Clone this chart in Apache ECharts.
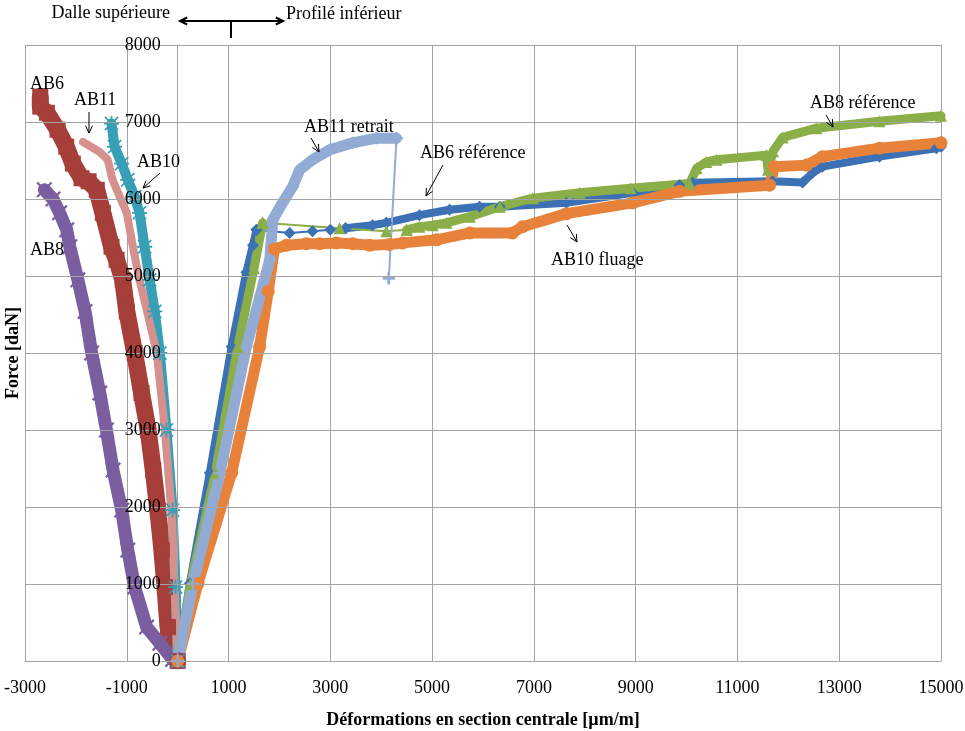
<!DOCTYPE html>
<html><head><meta charset="utf-8">
<script src="https://cdn.jsdelivr.net/npm/echarts@6/dist/echarts.min.js"></script>
<style>html,body{margin:0;padding:0;background:#fff}#c{width:965px;height:731px}</style>
</head><body><div id="c"></div>
<script>
// ---- axes / text ----
const xTickLabels = [-3000, -1000, 1000, 3000, 5000, 7000, 9000, 11000, 13000, 15000];
const yTickLabels = [0, 1000, 2000, 3000, 4000, 5000, 6000, 7000, 8000];
const xTitle = 'Déformations en section centrale [µm/m]';
const yTitle = 'Force [daN]';

// ---- Dalle supérieure (negative strains) ----
const ab6Dalle = [[0,0],[-190,440],[-250,960],[-310,1440],[-390,1960],[-480,2480],[-580,3000],[-710,3480],[-845,4000],[-1000,4540],[-1080,4950],[-1200,5210],[-1300,5380],[-1470,5820],[-1590,6120],[-1750,6230],[-1890,6270],[-2060,6460],[-2190,6680],[-2360,6900],[-2570,7120],[-2700,7200],[-2700,7330]];
const ab8Dalle = [[0,0],[-100,20],[-350,230],[-610,440],[-845,960],[-980,1440],[-1100,1960],[-1270,2480],[-1400,3000],[-1530,3480],[-1690,4000],[-1820,4540],[-1960,4950],[-2120,5380],[-2180,5600],[-2320,5820],[-2450,6000],[-2620,6120]];
const ab10Dalle = [[0,0],[-40,960],[-100,1960],[-220,3000],[-350,4000],[-450,4540],[-550,4950],[-650,5380],[-750,5820],[-845,6030],[-980,6250],[-1100,6460],[-1240,6680],[-1300,6980]];
const ab11Dalle = [[0,0],[-60,960],[-120,1960],[-250,3000],[-410,4000],[-600,4540],[-750,4950],[-880,5380],[-1000,5820],[-1140,6030],[-1280,6250],[-1375,6510],[-1530,6610],[-1860,6740]];

// ---- Profilé inférieur (positive strains) ----
const ab6Ref = [[0,0],[240,1010],[630,2440],[1060,4080],[1350,5050],[1480,5400],[1550,5600],[2200,5560],[2650,5580],[3000,5600],[3300,5620],[3830,5660],[4100,5690],[4750,5790],[5340,5860],[5930,5900],[6330,5900],[7640,5950],[8940,6080],[9860,6180],[10120,6210],[11690,6230],[12280,6215],[12480,6340],[12670,6420],[13790,6550],[14910,6660],[15000,6680]];
const ab8Ref = [[0,0],[250,1000],[740,2440],[1180,4080],[1500,5100],[1670,5690],[3180,5620],[4100,5580],[4500,5600],[4750,5640],[5010,5660],[5280,5690],[5740,5770],[6330,5900],[6980,6010],[7900,6080],[8900,6140],[10060,6200],[10200,6400],[10390,6480],[10590,6510],[11570,6570],[11600,6380],[11700,6620],[11890,6800],[12550,6920],[13790,7010],[15000,7080]];
const ab10Fluage = [[0,0],[400,1010],[1060,2440],[1610,4080],[1780,4800],[1900,5350],[2140,5400],[2530,5420],[2790,5420],[3120,5430],[3440,5420],[3770,5400],[4160,5410],[4420,5430],[5090,5470],[5740,5560],[6580,5560],[6780,5640],[7640,5810],[8940,5950],[9860,6100],[11630,6180],[11730,6420],[12360,6440],[12670,6550],[13790,6660],[15000,6730]];
const ab11Retrait = [[0,0],[300,1000],[830,2440],[1350,4080],[1810,5210],[1870,5730],[2060,5950],[2260,6160],[2400,6380],[2650,6510],[2990,6640],[3440,6730],[3910,6790],[4300,6790],[4150,4970]];

const SERIF = '"Liberation Serif","Times New Roman",serif';
const GRID = '#A3A3A3';
const PLUS = 'path://M4,0H6V4H10V6H6V10H4V6H0V4H4Z';
const CROSS = 'path://M1,0L5,4L9,0L10,1L6,5L10,9L9,10L5,6L1,10L0,9L4,5L0,1Z';
const STAR = 'path://M4.4,0H5.6V10H4.4Z M0,4.4H10V5.6H0Z M1,0.2L9.8,9L9,9.8L0.2,1Z M9,0.2L9.8,1L1,9.8L0.2,9Z';

function curve(name, data, color, width, symbol, size, thin) {
  const base = {type:'line', name, animation:false, silent:true, symbol, symbolSize:size,
    itemStyle:{color}, showSymbol: symbol !== 'none'};
  if (!thin) {
    return [Object.assign({}, base, {data, lineStyle:{color, width, join:'round', cap:'round'}})];
  }
  const band = data.slice(0, thin[0] + 1).concat([['-','-']], data.slice(thin[1]));
  const thinPart = data.slice(thin[0], thin[1] + 1);
  return [
    Object.assign({}, base, {data: band, lineStyle:{color, width, join:'round', cap:'round'}}),
    Object.assign({}, base, {data: thinPart, lineStyle:{color, width:2}})
  ];
}

const series = [].concat(
  curve('AB6 référence', ab6Ref, '#3C71B5', 8, 'diamond', 12, [6, 10]),
  curve('AB6', ab6Dalle, '#A63E3A', 17, 'rect', 16),
  curve('AB8 référence', ab8Ref, '#8AAE48', 9, 'triangle', 12, [5, 8]),
  curve('AB8', ab8Dalle, '#7A5EA0', 13, CROSS, 16),
  curve('AB10', ab10Dalle, '#379FB6', 10, STAR, 15),
  curve('AB10 fluage', ab10Fluage, '#E8823A', 11, 'circle', 13),
  curve('AB11', ab11Dalle, '#D6908D', 8, 'none', 0),
  curve('AB11 retrait', ab11Retrait, '#92ABD5', 11, PLUS, 12, [13, 14])
);

function txt(x, y, text, align) {
  return {type:'text', x, y, z:100, style:{text, font:'18px ' + SERIF, fill:'#000', align: align || 'left', verticalAlign:'middle'}};
}
function arrow(x1, y1, x2, y2, w) {
  const a = Math.atan2(y2 - y1, x2 - x1), L = 8, s = 0.45;
  const p1 = [x2 - L * Math.cos(a - s), y2 - L * Math.sin(a - s)];
  const p2 = [x2 - L * Math.cos(a + s), y2 - L * Math.sin(a + s)];
  return [
    {type:'polyline', z:100, shape:{points:[[x1,y1],[x2,y2]]}, style:{stroke:'#000', lineWidth:w || 1, fill:null}},
    {type:'polyline', z:100, shape:{points:[p1,[x2,y2],p2]}, style:{stroke:'#000', lineWidth:w || 1, fill:null}}
  ];
}

const graphic = [].concat(
  [txt(170, 13, 'Dalle supérieure', 'right'), txt(286, 14, 'Profilé inférieur')],
  arrow(231, 21, 180, 21, 2), arrow(231, 21, 283, 21, 2),
  [{type:'polyline', z:100, shape:{points:[[231,21],[231,38]]}, style:{stroke:'#000', lineWidth:2, fill:null}}],
  [txt(30, 84, 'AB6'), txt(74, 100, 'AB11'), txt(137, 162, 'AB10'), txt(30, 250, 'AB8'),
   txt(304, 127, 'AB11 retrait'), txt(420, 153, 'AB6 référence'), txt(551, 260, 'AB10 fluage'), txt(810, 103, 'AB8 référence')],
  arrow(89, 112, 89, 133), arrow(160, 173, 143, 188), arrow(311, 138, 319, 152),
  arrow(443, 165, 426, 196), arrow(567, 225, 577, 242), arrow(826, 115, 833, 127)
);

// layout: y axis sits where x = 0
const W = 965, GL = 25, GR = 24;
const xMin = xTickLabels[0], xMax = xTickLabels[xTickLabels.length - 1];
const yAxisOffset = -((0 - xMin) / (xMax - xMin)) * (W - GL - GR);

const fmt = v => String(v);
const chart = echarts.init(document.getElementById('c'));
chart.setOption({
  animation:false,
  backgroundColor:'#fff',
  grid:{left:GL, right:GR, top:45, bottom:70, containLabel:false, outerBoundsMode:'none'},
  xAxis:{type:'value', min:xMin, max:xMax,
    interval:xTickLabels[1]-xTickLabels[0],
    axisLine:{show:true, onZero:false, lineStyle:{color:GRID}}, axisTick:{show:false},
    axisLabel:{margin:18, color:'#000', fontFamily:SERIF, fontSize:18, formatter:fmt},
    splitLine:{show:true, lineStyle:{color:GRID, width:1}},
    name:xTitle, nameLocation:'middle', nameGap:50,
    nameTextStyle:{fontFamily:SERIF, fontSize:18, fontWeight:'bold', color:'#000'}},
  yAxis:{type:'value', min:yTickLabels[0], max:yTickLabels[yTickLabels.length-1],
    interval:yTickLabels[1]-yTickLabels[0], position:'left', offset:yAxisOffset, z:20,
    axisLine:{show:true, onZero:false, lineStyle:{color:GRID}}, axisTick:{show:false},
    axisLabel:{margin:17, color:'#000', fontFamily:SERIF, fontSize:18, formatter:fmt},
    splitLine:{show:true, lineStyle:{color:GRID, width:1}},
    name:yTitle, nameLocation:'middle', nameGap:155, nameRotate:90,
    nameTextStyle:{fontFamily:SERIF, fontSize:18, fontWeight:'bold', color:'#000'}},
  series,
  graphic
});
</script></body></html>
